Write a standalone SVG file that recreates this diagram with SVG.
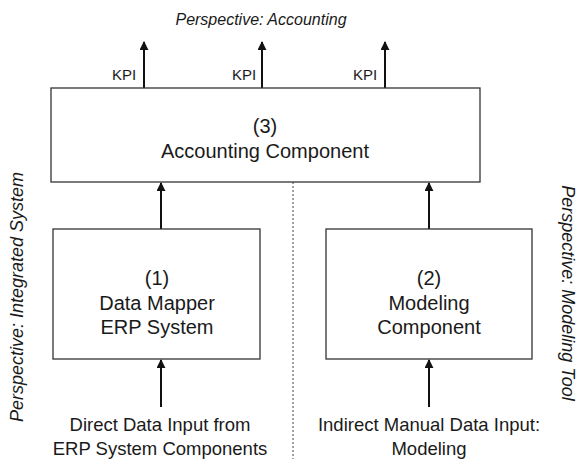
<svg xmlns="http://www.w3.org/2000/svg" width="582" height="459" viewBox="0 0 582 459">
<defs>
<marker id="ah" viewBox="0 0 10 10" refX="9" refY="5" markerWidth="4.5" markerHeight="4.5" orient="auto" markerUnits="strokeWidth">
<path d="M0,0 L10,5 L0,10 z" fill="#111"/>
</marker>
<style>
.box{fill:#fff;stroke:#333;stroke-width:1.3}
.t{font-family:"Liberation Sans",Arial,sans-serif;fill:#1a1a1a;text-anchor:middle}
.big{font-size:20px}
.in{font-size:18.5px}
.kpi{font-size:15px}
.it{font-style:italic;font-size:16px}
.side{font-size:18px}
.arr{stroke:#111;stroke-width:2;fill:none;marker-end:url(#ah)}
</style>
</defs>
<rect width="582" height="459" fill="#fff"/>
<text class="t it" x="261" y="25">Perspective: Accounting</text>
<text class="t it side" transform="translate(23,297) rotate(-90)">Perspective: Integrated System</text>
<text class="t it side" transform="translate(562,293) rotate(90)">Perspective: Modeling Tool</text>
<line x1="293" y1="182" x2="293" y2="459" stroke="#444" stroke-width="1" stroke-dasharray="2,2"/>
<g id="connectors">
<line class="arr" x1="144" y1="88" x2="144" y2="42"/>
<line class="arr" x1="262" y1="88" x2="262" y2="42"/>
<line class="arr" x1="385" y1="88" x2="385" y2="42"/>
<line class="arr" x1="161" y1="229" x2="161" y2="183"/>
<line class="arr" x1="429" y1="229" x2="429" y2="183"/>
<line class="arr" x1="161" y1="407" x2="161" y2="360"/>
<line class="arr" x1="429" y1="407" x2="429" y2="360"/>
<text class="t kpi" x="124" y="80">KPI</text>
<text class="t kpi" x="244" y="80">KPI</text>
<text class="t kpi" x="365" y="80">KPI</text>
</g>
<g id="accounting">
<rect class="box" x="51" y="88" width="429" height="94"/>
<text class="t big" x="265" y="133">(3)</text>
<text class="t big" x="265" y="158">Accounting Component</text>
</g>
<g id="datamapper">
<rect class="box" x="53" y="229" width="207" height="130"/>
<text class="t big" x="157" y="285">(1)</text>
<text class="t big" x="157" y="310">Data Mapper</text>
<text class="t big" x="157" y="334">ERP System</text>
</g>
<g id="modeling">
<rect class="box" x="326" y="229" width="206" height="130"/>
<text class="t big" x="429" y="285">(2)</text>
<text class="t big" x="429" y="310">Modeling</text>
<text class="t big" x="429" y="334">Component</text>
</g>
<g id="input1">
<text class="t in" x="160" y="431">Direct Data Input from</text>
<text class="t in" x="160" y="455">ERP System Components</text>
</g>
<g id="input2">
<text class="t in" x="429" y="431">Indirect Manual Data Input:</text>
<text class="t in" x="429" y="455">Modeling</text>
</g>
</svg>
